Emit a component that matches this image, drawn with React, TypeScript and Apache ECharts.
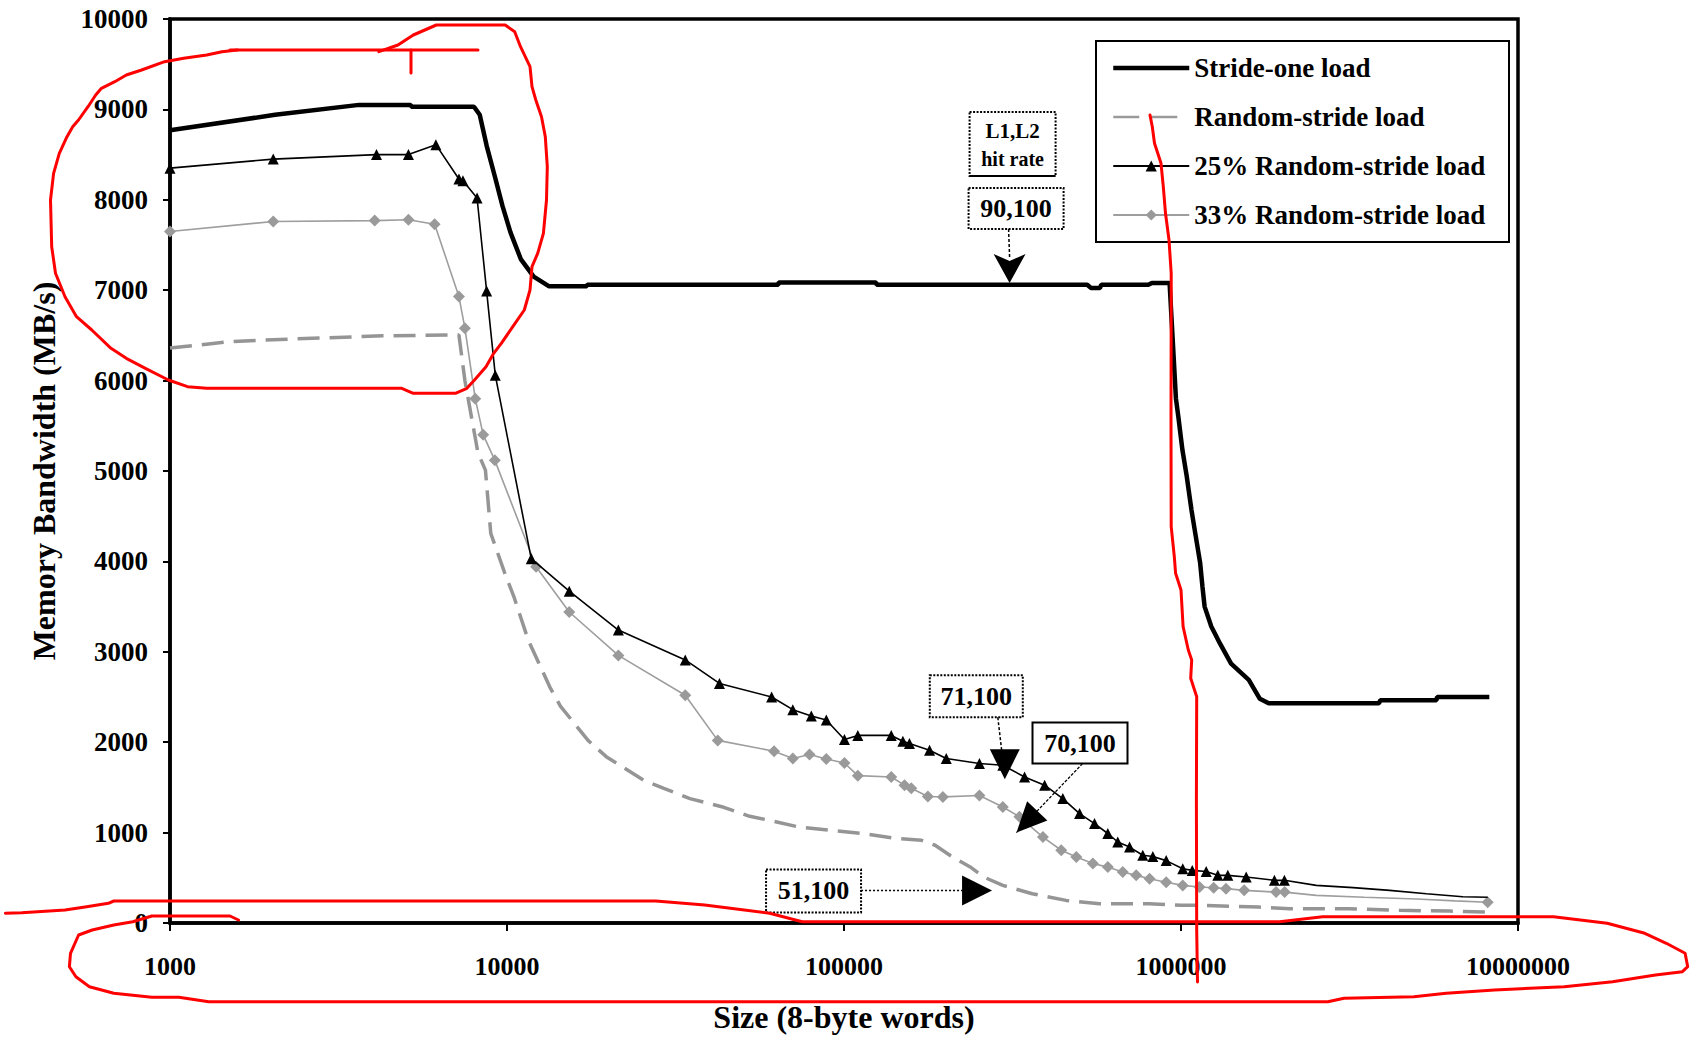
import React, { useEffect, useRef } from "react";
import * as echarts from "echarts";

const FONT = '"Liberation Serif", "Times New Roman", serif';

// ---------- data (size in 8-byte words, bandwidth in MB/s) ----------
const strideOneSize = [1000, 2050, 3640, 5180, 5200, 7980, 8300, 8700, 9200, 9700, 10240, 11000, 12000, 13300, 17250, 17300, 63800, 64000, 124500, 125000, 527000, 540000, 575000, 580000, 800000, 820000, 925000, 937000, 966000, 982000, 1010000, 1040000, 1074000, 1107000, 1140000, 1158000, 1175000, 1230000, 1306000, 1408000, 1589000, 1714000, 1820000, 3870000, 3900000, 5730000, 5750000, 8220000];
const strideOneBW = [8770, 8940, 9050, 9050, 9030, 9030, 8940, 8600, 8260, 7930, 7640, 7340, 7150, 7045, 7045, 7060, 7060, 7085, 7085, 7060, 7060, 7025, 7025, 7060, 7060, 7080, 7080, 6700, 5800, 5600, 5230, 4940, 4570, 4270, 3980, 3720, 3500, 3280, 3090, 2870, 2690, 2480, 2430, 2430, 2465, 2465, 2500, 2500];

const randomSize = [1000, 1500, 2275, 4270, 7200, 7500, 8200, 8630, 8950, 9850, 10480, 11560, 13400, 14400, 17400, 19700, 25400, 29200, 34900, 44000, 52500, 60000, 73500, 92300, 113900, 142300, 169800, 186400, 209700, 236900, 259900, 296000, 362000, 456000, 573000, 804000, 1000000, 1135000, 1700000, 2100000, 3150000, 4450000, 6250000, 8100000];
const randomBW = [6360, 6430, 6460, 6495, 6505, 6000, 5200, 5010, 4310, 3870, 3610, 3130, 2610, 2400, 2020, 1840, 1580, 1490, 1376, 1280, 1180, 1136, 1062, 1025, 989, 935, 915, 860, 730, 620, 508, 416, 324, 250, 214, 214, 195, 195, 176, 158, 158, 140, 132, 121];

const r25Size = [1000, 2025, 4100, 5100, 6150, 7200, 7400, 8150, 8700, 9230, 11800, 15300, 21400, 33800, 42700, 61000, 70500, 80000, 88600, 100300, 109900, 138100, 149500, 156400, 179400, 201100, 252300, 296000, 343400, 393800, 446000, 500000, 553800, 606400, 649200, 703800, 770000, 825000, 903800, 1012000, 1080000, 1188000, 1286000, 1377000, 1561000, 1893000, 2027000, 2520000, 3240000, 4160000, 5350000, 6860000, 8130000];
const r25BW = [8350, 8450, 8500, 8500, 8610, 8230, 8210, 8020, 6990, 6060, 4030, 3670, 3240, 2910, 2650, 2500, 2360, 2290, 2245, 2030, 2075, 2075, 2010, 1985, 1910, 1820, 1765, 1745, 1615, 1525, 1376, 1210, 1100, 990, 896, 840, 750, 735, 690, 601, 582, 570, 527, 527, 508, 472, 472, 416, 391, 361, 324, 290, 285];
const r25LastMarkedSize = 2027000;

const r33Size = [1000, 2025, 4050, 5100, 6100, 7200, 7500, 8050, 8500, 9200, 12200, 15300, 21400, 33800, 42200, 62000, 70500, 79000, 88600, 100300, 109900, 138100, 151200, 158300, 177400, 196500, 252300, 296000, 331600, 389300, 441300, 489000, 547700, 606400, 671700, 736200, 806600, 903800, 1012000, 1135000, 1250000, 1360000, 1540000, 1915000, 2030000, 2520000, 3500000, 5000000, 6500000, 8130000];
const r33BW = [7650, 7760, 7770, 7780, 7730, 6930, 6580, 5800, 5400, 5120, 3940, 3440, 2960, 2520, 2020, 1900, 1820, 1865, 1815, 1770, 1630, 1615, 1525, 1490, 1400, 1395, 1410, 1283, 1175, 950, 805, 730, 657, 619, 564, 527, 490, 450, 416, 398, 390, 380, 361, 342, 342, 306, 285, 265, 245, 230];
const r33UnmarkedFrom = 2030000;
const r33UnmarkedTo = 8000000;

const seriesNames = ["Stride-one load", "Random-stride load", "25% Random-stride load", "33% Random-stride load"];

// annotation labels and the data points their arrows point to
const note90 = { label: "90,100", tip: [310000, 7080] };
const noteHeader = ["L1,L2", "hit rate"];
const note71 = { label: "71,100", tip: [300000, 1590] };
const note70 = { label: "70,100", tip: [325000, 1000] };
const note51 = { label: "51,100", tip: [275000, 360] };

// hand-drawn red overlay strokes (page pixels)
const redLoop = [[378.9,51.7],[398,45],[413.3,35],[436.3,25],[505.2,25],[514.7,31.7],[520.5,46.7],[530,66.7],[532,86.7],[535.8,100],[541.5,116.7],[545.3,136.7],[547.3,166.7],[546.5,200],[543.4,233.3],[537.7,253.3],[532,266.7],[530,290],[524.3,310],[512.8,326.7],[501.3,343.3],[493.7,353.3],[486,366.7],[474.5,380],[466.9,388.3],[455.4,393.3],[413.3,393.3],[401.8,388.3],[206.7,388.3],[187.5,386.7],[168.4,380],[145.4,368.3],[126.3,358.3],[111,348.3],[91.8,330],[76.5,316.7],[65,296.7],[55.5,273.3],[51.7,246.7],[50.5,200],[53.6,173.3],[59.3,153.3],[67,136.7],[72.7,126.7],[78.5,120],[88,106.7],[95.7,95],[101.4,88.3],[114.8,81.7],[126.3,75],[141.6,70],[164.6,61.7],[183.7,58.3],[206.7,55],[222,51.7],[237.3,50]];
const redBar = [[230, 50], [478, 50]];
const redTick = [[411, 50], [411, 73]];
const redVertical = [[1150,115],[1152.3,126.7],[1154.5,143.3],[1161,163.3],[1163.3,186.7],[1165.5,213.3],[1169,240],[1171.2,273.3],[1171.2,300],[1171,420],[1171.2,526.7],[1174.3,556.7],[1175.6,573.3],[1181,590],[1183.1,626.7],[1188.3,650],[1191.7,660],[1190.7,678.3],[1196.7,696.7],[1196.4,800],[1196.7,930],[1197.5,982]];
const redBottom = [[238.5,920],[230,916],[151.8,916],[132.8,921.7],[113.8,925],[92.2,930],[78.6,935],[70.5,953.3],[69.4,966.7],[75.9,976.7],[89.4,986.7],[113.8,993.3],[151.8,997.3],[178.9,997.3],[208.7,1001.7],[1327.9,1001.7],[1344,998.3],[1413.9,996.7],[1446.2,993.3],[1494.5,990],[1564.3,986.7],[1612.6,981.7],[1655.5,975],[1682.4,971.7],[1687.7,966.7],[1685.1,953.3],[1666.3,943.3],[1644.8,933.3],[1607.2,923.3],[1553.5,916.7],[1322.6,916.7],[1279.6,921.7],[802.2,921.7],[769.7,913.3],[704.7,905],[655.9,901],[113.8,901],[108.4,903.3],[86.7,906.7],[65,910],[21.7,912.7],[5.4,913.3]];

const pair = (xs: number[], ys: number[]) => xs.map((x, i) => [x, ys[i]]);

function boxWithText(x: number, y: number, w: number, h: number, label: string, size: number, solid: boolean) {
  return [
    {
      type: "rect",
      shape: { x, y, width: w, height: h },
      style: { fill: "#fff", stroke: "#000", lineWidth: 2, lineDash: solid ? null : [2, 1.5] },
      z: 50,
    },
    {
      type: "text",
      x: x + w / 2,
      y: y + h / 2,
      style: { text: label, fill: "#000", font: `bold ${size}px ${FONT}`, textAlign: "center", textVerticalAlign: "middle" },
      z: 51,
    },
  ];
}

function redLine(points: number[][]) {
  return {
    type: "polyline",
    shape: { points },
    style: { stroke: "#ff0000", lineWidth: 3, fill: null, lineJoin: "round", lineCap: "round" },
    z: 200,
    silent: true,
  };
}

export default function App() {
  const ref = useRef<HTMLDivElement>(null);

  useEffect(() => {
    if (!ref.current) return;
    const chart = echarts.init(ref.current, null, { renderer: "svg" });

    const r25Data = pair(r25Size, r25BW).map((p) =>
      p[0] <= r25LastMarkedSize ? p : { value: p, symbol: "none" }
    );
    const r33Data = pair(r33Size, r33BW).map((p) =>
      p[0] > r33UnmarkedFrom && p[0] < r33UnmarkedTo ? { value: p, symbol: "none" } : p
    );

    const option: any = {
      animation: false,
      backgroundColor: "#fff",
      grid: { left: 170, right: 174, top: 19, bottom: 115, show: true, borderColor: "#000", borderWidth: 3.5, backgroundColor: "transparent" },
      xAxis: {
        type: "log",
        logBase: 10,
        min: 1000,
        max: 10000000,
        name: "Size (8-byte words)",
        nameLocation: "middle",
        nameGap: 78,
        nameTextStyle: { fontFamily: FONT, fontWeight: "bold", fontSize: 32, color: "#000" },
        axisLine: { lineStyle: { color: "#000", width: 3.5 } },
        axisTick: { show: true, length: 8, lineStyle: { color: "#000", width: 2 } },
        minorTick: { show: false },
        splitLine: { show: false },
        axisLabel: {
          fontFamily: FONT,
          fontWeight: "bold",
          fontSize: 26,
          color: "#000",
          margin: 30,
          formatter: (v: number) => String(Math.round(v)),
        },
      },
      yAxis: {
        type: "value",
        min: 0,
        max: 10000,
        interval: 1000,
        name: "Memory Bandwidth (MB/s)",
        nameLocation: "middle",
        nameGap: 110,
        nameTextStyle: { fontFamily: FONT, fontWeight: "bold", fontSize: 32, color: "#000" },
        axisLine: { lineStyle: { color: "#000", width: 3.5 } },
        axisTick: { show: true, length: 7, lineStyle: { color: "#000", width: 2 } },
        splitLine: { show: false },
        axisLabel: {
          fontFamily: FONT,
          fontWeight: "bold",
          fontSize: 27,
          color: "#000",
          margin: 22,
          formatter: (v: number) => String(Math.round(v)),
        },
      },
      legend: {
        orient: "vertical",
        left: 1111,
        top: 54,
        itemWidth: 76,
        itemHeight: 14,
        itemGap: 21,
        padding: 0,
        data: [
          { name: seriesNames[0], itemStyle: { opacity: 0 }, lineStyle: { width: 4.5, color: "#000" } },
          { name: seriesNames[1], itemStyle: { opacity: 0 }, lineStyle: { width: 2.5, color: "#9a9a9a", type: [26, 12] } },
          { name: seriesNames[2] },
          { name: seriesNames[3] },
        ],
        textStyle: { fontFamily: FONT, fontWeight: "bold", fontSize: 27, color: "#000", lineHeight: 28 },
      },
      series: [
        {
          name: seriesNames[0],
          type: "line",
          data: pair(strideOneSize, strideOneBW),
          symbol: "none",
          lineStyle: { color: "#000", width: 4.5 },
          itemStyle: { color: "#000" },
          z: 5,
        },
        {
          name: seriesNames[1],
          type: "line",
          data: pair(randomSize, randomBW),
          symbol: "none",
          lineStyle: { color: "#959595", width: 3.5, type: [22, 10] },
          itemStyle: { color: "#959595" },
          z: 2,
        },
        {
          name: seriesNames[2],
          type: "line",
          data: r25Data,
          symbol: "triangle",
          symbolSize: 11,
          lineStyle: { color: "#000", width: 1.6 },
          itemStyle: { color: "#000" },
          z: 4,
        },
        {
          name: seriesNames[3],
          type: "line",
          data: r33Data,
          symbol: "diamond",
          symbolSize: 12,
          lineStyle: { color: "#9e9e9e", width: 1.6 },
          itemStyle: { color: "#9a9a9a" },
          z: 3,
        },
      ],
    };

    chart.setOption(option);

    const px = (p: number[]) => chart.convertToPixel({ gridIndex: 0 } as any, p) as number[];
    const g: any[] = [];

    // legend frame
    g.push({ type: "rect", shape: { x: 1096, y: 41, width: 413, height: 201 }, style: { fill: null, stroke: "#000", lineWidth: 2 }, z: 40 });

    // 90,100 + L1,L2 header
    {
      const [tx, ty] = px(note90.tip);
      g.push(...boxWithText(tx - 40, ty - 171, 86, 64, "", 17, false));
      g.push({ type: "text", x: tx + 3, y: ty - 152, style: { text: noteHeader[0], fill: "#000", font: `bold 21px ${FONT}`, textAlign: "center", textVerticalAlign: "middle" }, z: 52 });
      g.push({ type: "text", x: tx + 3, y: ty - 124, style: { text: noteHeader[1], fill: "#000", font: `bold 20px ${FONT}`, textAlign: "center", textVerticalAlign: "middle" }, z: 52 });
      g.push({ type: "line", shape: { x1: tx - 40, y1: ty - 107, x2: tx + 46, y2: ty - 107 }, style: { stroke: "#000", lineWidth: 2 }, z: 52 });
      g.push(...boxWithText(tx - 41, ty - 95, 95, 41, note90.label, 26, false));
      g.push({ type: "line", shape: { x1: tx - 1, y1: ty - 54, x2: tx, y2: ty - 26 }, style: { stroke: "#000", lineWidth: 1.5, lineDash: [3, 2] }, z: 52 });
      g.push({ type: "polygon", shape: { points: [[tx - 16, ty - 29], [tx, ty - 22], [tx + 16, ty - 29], [tx, ty]] }, style: { fill: "#000" }, z: 52 });
    }
    // 71,100
    {
      const [tx, ty] = px(note71.tip);
      g.push(...boxWithText(tx - 75, ty - 104, 93, 42, note71.label, 26, false));
      g.push({ type: "line", shape: { x1: tx - 7, y1: ty - 62, x2: tx - 3, y2: ty - 28 }, style: { stroke: "#000", lineWidth: 1.5, lineDash: [3, 2] }, z: 52 });
      g.push({ type: "polygon", shape: { points: [[tx - 15, ty - 30], [tx + 15, ty - 30], [tx, ty]] }, style: { fill: "#000" }, z: 52 });
    }
    // 70,100
    {
      const [tx, ty] = px(note70.tip);
      g.push(...boxWithText(tx + 16, ty - 110, 95, 41, note70.label, 26, true));
      const sx = tx + 66, sy = ty - 69;
      const dx = tx - sx, dy = ty - sy;
      const len = Math.hypot(dx, dy);
      const ux = dx / len, uy = dy / len;
      const bx = tx - 30 * ux, by = ty - 30 * uy;
      const pxp = -uy, pyp = ux;
      g.push({ type: "line", shape: { x1: sx, y1: sy, x2: tx, y2: ty }, style: { stroke: "#000", lineWidth: 1.3, lineDash: [3, 1.5] }, z: 52 });
      g.push({ type: "polygon", shape: { points: [[bx + 14 * pxp, by + 14 * pyp], [bx - 14 * pxp, by - 14 * pyp], [tx, ty]] }, style: { fill: "#000" }, z: 52 });
    }
    // 51,100
    {
      const [tx, ty] = px(note51.tip);
      g.push(...boxWithText(tx - 226, ty - 21, 95, 43, note51.label, 26, false));
      g.push({ type: "line", shape: { x1: tx - 131, y1: ty, x2: tx - 30, y2: ty }, style: { stroke: "#000", lineWidth: 1.5, lineDash: [2, 2] }, z: 52 });
      g.push({ type: "polygon", shape: { points: [[tx - 30, ty - 15], [tx - 30, ty + 15], [tx, ty]] }, style: { fill: "#000" }, z: 52 });
    }

    // red overlay
    g.push(redLine(redLoop), redLine(redBar), redLine(redTick), redLine(redVertical), redLine(redBottom));

    chart.setOption({ graphic: g });

    return () => chart.dispose();
  }, []);

  return <div ref={ref} style={{ position: "fixed", left: 0, top: 0, width: 1692, height: 1038, background: "#fff" }} />;
}
